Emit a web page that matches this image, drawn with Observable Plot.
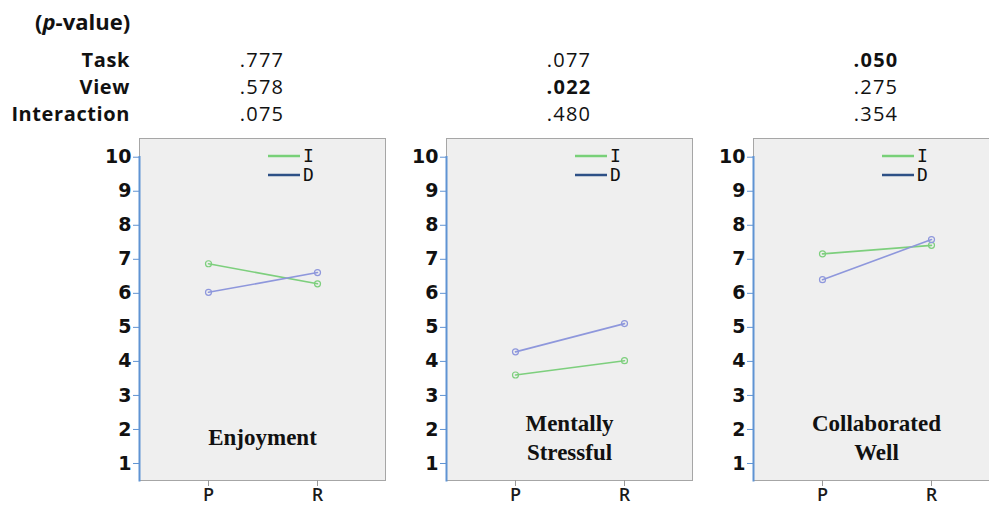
<!DOCTYPE html>
<html><head><meta charset="utf-8">
<script src="https://cdn.jsdelivr.net/npm/d3@7"></script>
<script src="https://cdn.jsdelivr.net/npm/@observablehq/plot@0.6"></script>
<style>
html,body{margin:0;padding:0;background:#fff;}
#root{position:relative;width:989px;height:508px;overflow:hidden;font-family:"Open Sans",sans-serif;color:#111;}
.panel{position:absolute;top:130px;}
.hdr{position:absolute;white-space:nowrap;line-height:1;}
</style></head><body><div id="root"></div>
<script>
// ---- data ----
const panelTitles = ["Enjoyment", "Mentally\nStressful", "Collaborated\nWell"];
const conditions = ["P", "R"];
const series = ["I", "D"];
const valuesI = [[6.87, 6.28], [3.60, 4.02], [7.16, 7.41]];
const valuesD = [[6.03, 6.61], [4.28, 5.11], [6.40, 7.58]];
const yTicks = [1, 2, 3, 4, 5, 6, 7, 8, 9, 10];
const effects = ["Task", "View", "Interaction"];
const pTask = [0.777, 0.077, 0.050];
const pView = [0.578, 0.022, 0.275];
const pInteraction = [0.075, 0.480, 0.354];

// ---- styles / layout ----
const lineColors = ["#7dcf7d", "#8e97dc"];
const legendColors = ["#78d078", "#2d5086"];
const axisBlue = "#5f93d3";
const FRAME_W = 246, ML = 62, MT = 8, MB = 28, H = 378;
const frameLefts = [139, 446, 753];

const root = d3.select("#root");

// header (p-value table)
root.append("div").attr("class", "hdr")
  .style("left", "35px").style("top", "21px").style("transform", "translateY(-50%)")
  .style("font-weight", 700).style("font-size", "22px")
  .html("(<i>p</i>-value)");

const pRows = [pTask, pView, pInteraction];
const rowY = [60, 87, 114];
const fmt = v => d3.format(".3f")(v).replace(/^0/, "");
effects.forEach((eff, r) => {
  root.append("div").attr("class", "hdr")
    .style("left", "130px").style("top", rowY[r] + "px")
    .style("transform", "translate(-100%,-50%)")
    .style("font-weight", 700).style("font-size", "20px").style("letter-spacing", "0.6px")
    .text(eff);
  pRows[r].forEach((v, k) => {
    root.append("div").attr("class", "hdr")
      .style("left", (frameLefts[k] + FRAME_W / 2) + "px").style("top", rowY[r] + "px")
      .style("transform", "translate(-50%,-50%)")
      .style("font-weight", v <= 0.05 ? 700 : 400).style("font-size", "20px").style("letter-spacing", "1.2px")
      .text(fmt(v));
  });
});

function legendMark(index, scales, values, dims) {
  const g = d3.create("svg:g");
  const x0 = dims.marginLeft + 129;
  series.forEach((s, i) => {
    const yy = dims.marginTop + 18 + i * 19;
    g.append("line").attr("x1", x0).attr("x2", x0 + 32).attr("y1", yy).attr("y2", yy)
      .attr("stroke", legendColors[i]).attr("stroke-width", 2.5);
    g.append("text").attr("x", x0 + 35).attr("y", yy).attr("dy", "0.36em")
      .attr("text-anchor", "start")
      .attr("font-family", "DejaVu Sans Mono").attr("font-size", 18).attr("fill", "#111")
      .text(s);
  });
  return g.node();
}

panelTitles.forEach((title, k) => {
  const rows = [];
  series.forEach((s, si) => conditions.forEach((c, ci) =>
    rows.push({series: s, cond: c, value: (si === 0 ? valuesI : valuesD)[k][ci]})));
  const chart = Plot.plot({
    width: ML + FRAME_W, height: H,
    marginLeft: ML, marginRight: 0, marginTop: MT, marginBottom: MB,
    x: {domain: conditions, type: "point", padding: 0.62},
    y: {domain: [0.5, 10.55]},
    color: {domain: series, range: lineColors},
    style: {background: "transparent", overflow: "visible"},
    marks: [
      Plot.frame({fill: "#efefef", stroke: "#a6a6a6"}),
      Plot.frame({anchor: "left", stroke: axisBlue, strokeWidth: 2, insetTop: 18.5}),
      Plot.axisY({ticks: yTicks, label: null, tickSize: 6, tickPadding: 2, stroke: axisBlue, fill: "#111",
        fontSize: 19, fontWeight: "bold", fontFamily: "DejaVu Sans"}),
      Plot.axisX({label: null, tickSize: 6, tickPadding: 2, stroke: "#999", fill: "#1a1a1a",
        fontSize: 18, fontWeight: 600, fontFamily: "Open Sans"}),
      Plot.line(rows, {x: "cond", y: "value", z: "series", stroke: "series", strokeWidth: 1.6}),
      Plot.dot(rows, {x: "cond", y: "value", stroke: "series", r: 3, strokeWidth: 1.2}),
      Plot.text([title], {frameAnchor: "bottom", dy: -44, lineAnchor: "middle", fontFamily: "Liberation Serif",
        fontWeight: "bold", fontSize: 23, lineHeight: 1.22, fill: "#111"}),
      legendMark
    ]
  });
  d3.select(chart).attr("class", "panel").style("left", (frameLefts[k] - ML) + "px");
  root.node().appendChild(chart);
});
</script>
</body></html>
